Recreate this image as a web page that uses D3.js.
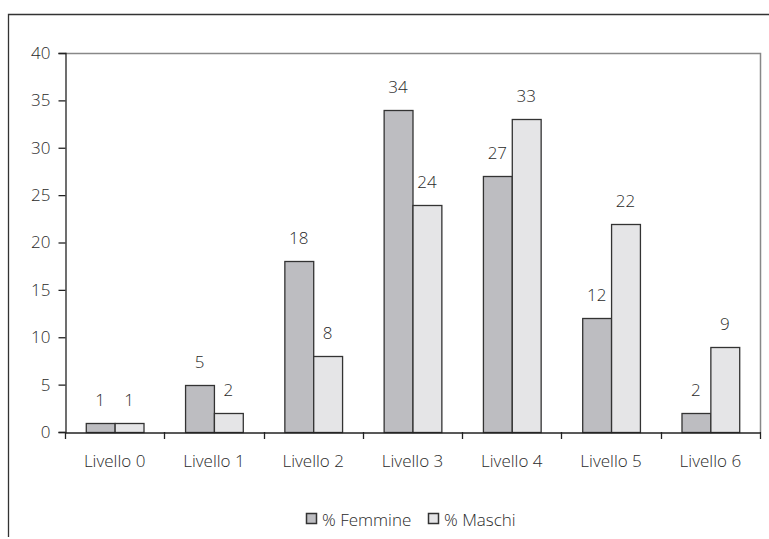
<!DOCTYPE html>
<html>
<head>
<meta charset="utf-8">
<script src="https://cdn.jsdelivr.net/npm/d3@7"></script>
<style>
  html, body { margin: 0; padding: 0; background: #fff; }
  svg text { font-family: "Open Sans", "Noto Sans", sans-serif; font-weight: 300; fill: #2a2a2a; }
</style>
</head>
<body>
<svg id="chart" width="769" height="539"></svg>
<script>
const categories = ["Livello 0", "Livello 1", "Livello 2", "Livello 3", "Livello 4", "Livello 5", "Livello 6"];
const femmine = [1, 5, 18, 34, 27, 12, 2];
const maschi = [1, 2, 8, 24, 33, 22, 9];
const seriesNames = ["% Femmine", "% Maschi"];
const seriesColors = ["#bdbdc1", "#e5e5e7"];
const yTicks = [0, 5, 10, 15, 20, 25, 30, 35, 40];

const svg = d3.select("#chart");
const plot = { left: 65, right: 760, top: 53, bottom: 432 };
const fontSize = "17px";

// outer frame (top and left edges)
svg.append("path")
  .attr("d", "M8.5,537 L8.5,14.5 L769,14.5")
  .attr("fill", "none").attr("stroke", "#333").attr("stroke-width", 1.3);

const x = d3.scaleBand().domain(categories).range([plot.left, plot.right]).paddingInner(0).paddingOuter(0);
const inner = d3.scaleBand().domain(seriesNames).range([0, x.bandwidth()]).paddingInner(0).paddingOuter(0.72);
const y = d3.scaleLinear().domain([0, 40]).range([plot.bottom, plot.top]);

// plot area border (top and right)
svg.append("path")
  .attr("d", `M${plot.left},${plot.top + 0.5} L${plot.right + 0.5},${plot.top + 0.5} L${plot.right + 0.5},${plot.bottom}`)
  .attr("fill", "none").attr("stroke", "#888").attr("stroke-width", 1.5);

// y axis
const yAxis = svg.append("g")
  .attr("transform", `translate(${plot.left + 0.5},0)`)
  .call(d3.axisLeft(y).tickValues(yTicks).tickSize(7).tickPadding(8));
yAxis.select(".domain").attr("stroke", "#222").attr("stroke-width", 1.3);
yAxis.selectAll(".tick line").attr("stroke", "#222").attr("stroke-width", 1.3);
yAxis.selectAll(".tick text").style("font-size", fontSize).attr("fill", "#2a2a2a");

const data = categories.map((c, i) => ({ cat: c, values: [femmine[i], maschi[i]] }));

const groups = svg.append("g").selectAll("g").data(data).join("g")
  .attr("transform", d => `translate(${x(d.cat)},0)`);

groups.selectAll("rect").data(d => d.values.map((v, j) => ({ v, s: seriesNames[j], j })))
  .join("rect")
  .attr("x", d => inner(d.s) + 0.5)
  .attr("y", d => Math.round(y(d.v)) + 0.5)
  .attr("width", inner.bandwidth())
  .attr("height", d => plot.bottom - Math.round(y(d.v)))
  .attr("fill", d => seriesColors[d.j])
  .attr("stroke", "#333").attr("stroke-width", 1.3);

groups.selectAll("text.val").data(d => d.values.map((v, j) => ({ v, s: seriesNames[j] })))
  .join("text").attr("class", "val")
  .attr("x", d => inner(d.s) + inner.bandwidth() / 2)
  .attr("y", d => y(d.v) - 17)
  .attr("text-anchor", "middle")
  .style("font-size", fontSize)
  .text(d => d.v);

// x axis
const xAxis = svg.append("g")
  .attr("transform", `translate(0,${plot.bottom + 0.5})`)
  .call(d3.axisBottom(x).tickSize(0).tickPadding(22));
xAxis.select(".domain").attr("stroke", "#222").attr("stroke-width", 1.3);
xAxis.selectAll(".tick text").style("font-size", fontSize).attr("fill", "#2a2a2a");
// category separator ticks
const boundaries = d3.range(categories.length + 1).map(i => plot.left + i * x.step());
svg.append("g").selectAll("line").data(boundaries).join("line")
  .attr("x1", d => Math.round(d) + 0.5).attr("x2", d => Math.round(d) + 0.5)
  .attr("y1", plot.bottom).attr("y2", plot.bottom + 7)
  .attr("stroke", "#222").attr("stroke-width", 1.3);

// legend
const legend = svg.append("g").attr("transform", "translate(306,520)");
const legendItems = legend.selectAll("g").data(seriesNames).join("g")
  .attr("transform", (d, i) => `translate(${i * 122},0)`);
legendItems.append("rect")
  .attr("x", 0.5).attr("y", -6.5).attr("width", 10).attr("height", 10)
  .attr("fill", (d, i) => seriesColors[i]).attr("stroke", "#333").attr("stroke-width", 1.5);
legendItems.append("text")
  .attr("x", 16).attr("y", 6)
  .style("font-size", fontSize)
  .text(d => d);
</script>
</body>
</html>
